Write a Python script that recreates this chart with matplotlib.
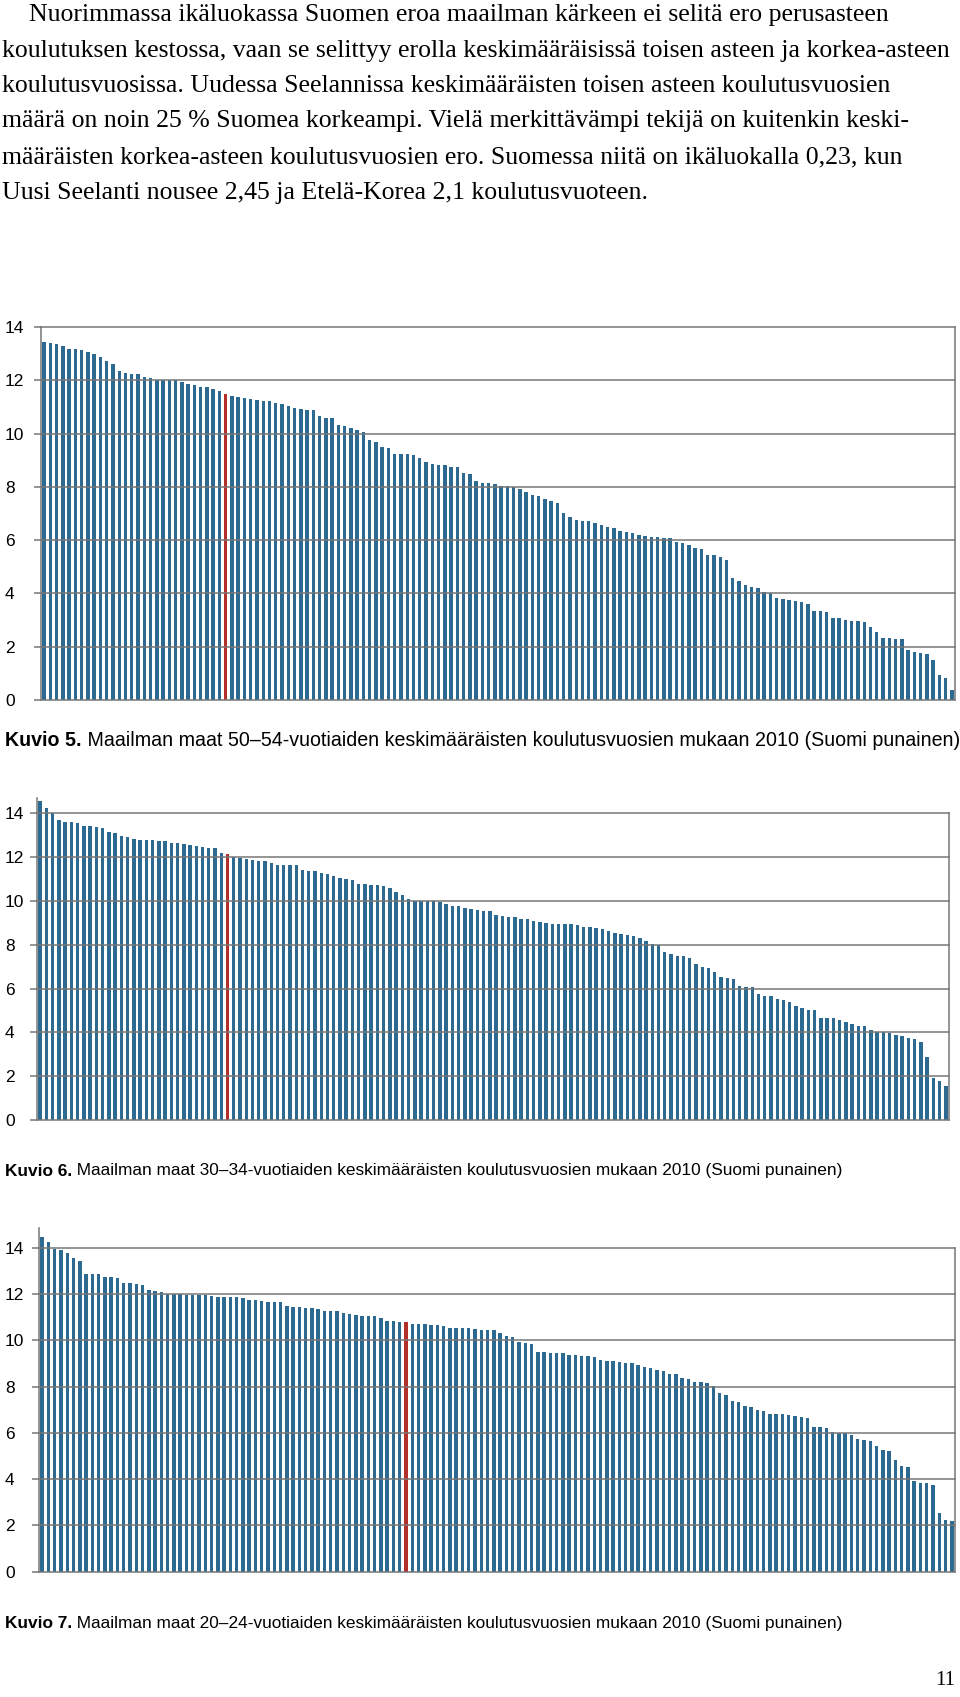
import matplotlib
matplotlib.use("Agg")
import matplotlib.pyplot as plt

plt.rcParams['font.family'] = 'Liberation Sans'

# Keskimääräiset koulutusvuodet maittain 2010, suurimmasta pienimpään
kuvio5 = [13.43, 13.40, 13.37, 13.30, 13.19, 13.19, 13.13, 13.08, 13.00, 12.89,
          12.74, 12.63, 12.34, 12.28, 12.22, 12.22, 12.12, 12.07, 12.02, 12.01,
          12.00, 12.00, 11.92, 11.86, 11.81, 11.75, 11.73, 11.66, 11.61, 11.48,
          11.42, 11.37, 11.32, 11.31, 11.25, 11.23, 11.22, 11.15, 11.10, 11.03,
          10.95, 10.91, 10.87, 10.87, 10.66, 10.59, 10.59, 10.31, 10.27, 10.22,
          10.12, 10.05, 9.75, 9.68, 9.48, 9.44, 9.25, 9.25, 9.24, 9.18,
          9.08, 8.94, 8.85, 8.83, 8.82, 8.75, 8.73, 8.52, 8.47, 8.22,
          8.15, 8.14, 8.12, 8.04, 8.02, 7.99, 7.92, 7.81, 7.71, 7.64,
          7.54, 7.47, 7.39, 7.01, 6.86, 6.76, 6.71, 6.70, 6.65, 6.56,
          6.51, 6.46, 6.35, 6.31, 6.28, 6.21, 6.17, 6.13, 6.11, 6.07,
          6.07, 5.94, 5.91, 5.81, 5.69, 5.67, 5.44, 5.44, 5.36, 5.27,
          4.59, 4.45, 4.30, 4.24, 4.21, 4.04, 4.01, 3.83, 3.78, 3.74,
          3.73, 3.69, 3.60, 3.35, 3.34, 3.32, 3.09, 3.08, 3.00, 2.97,
          2.96, 2.92, 2.74, 2.56, 2.34, 2.31, 2.28, 2.28, 1.87, 1.82,
          1.76, 1.71, 1.52, 0.92, 0.84, 0.37]

kuvio6 = [14.58, 14.24, 14.01, 13.68, 13.62, 13.59, 13.56, 13.44, 13.42, 13.38,
          13.32, 13.16, 13.09, 12.95, 12.94, 12.85, 12.78, 12.77, 12.77, 12.74,
          12.72, 12.63, 12.63, 12.60, 12.57, 12.51, 12.47, 12.42, 12.41, 12.19,
          12.15, 12.00, 11.96, 11.93, 11.87, 11.84, 11.83, 11.75, 11.65, 11.63,
          11.63, 11.63, 11.43, 11.37, 11.36, 11.28, 11.22, 11.16, 11.07, 11.01,
          10.96, 10.78, 10.77, 10.73, 10.72, 10.69, 10.61, 10.39, 10.27, 10.10,
          10.02, 10.01, 10.01, 9.99, 9.93, 9.88, 9.78, 9.75, 9.69, 9.63,
          9.60, 9.55, 9.54, 9.38, 9.31, 9.26, 9.25, 9.19, 9.16, 9.10,
          9.03, 9.00, 8.97, 8.94, 8.93, 8.93, 8.91, 8.82, 8.79, 8.75,
          8.70, 8.61, 8.53, 8.49, 8.43, 8.40, 8.32, 8.15, 8.03, 8.00,
          7.65, 7.58, 7.47, 7.47, 7.41, 7.14, 7.00, 6.95, 6.76, 6.54,
          6.48, 6.42, 6.12, 6.07, 6.07, 5.74, 5.65, 5.65, 5.54, 5.48,
          5.39, 5.22, 5.13, 5.01, 5.00, 4.66, 4.65, 4.65, 4.56, 4.48,
          4.40, 4.30, 4.30, 4.13, 4.04, 4.01, 3.98, 3.87, 3.84, 3.75,
          3.70, 3.57, 2.87, 1.93, 1.79, 1.56]

kuvio7 = [14.48, 14.26, 13.94, 13.90, 13.77, 13.59, 13.42, 12.89, 12.87, 12.86,
          12.73, 12.73, 12.70, 12.51, 12.49, 12.44, 12.39, 12.19, 12.16, 12.12,
          12.03, 12.02, 12.00, 11.99, 11.99, 11.97, 11.96, 11.93, 11.90, 11.90,
          11.89, 11.89, 11.86, 11.76, 11.76, 11.73, 11.68, 11.68, 11.67, 11.50,
          11.47, 11.45, 11.42, 11.41, 11.35, 11.29, 11.29, 11.26, 11.19, 11.13,
          11.10, 11.06, 11.06, 11.05, 10.97, 10.84, 10.84, 10.80, 10.79, 10.71,
          10.70, 10.70, 10.68, 10.67, 10.64, 10.55, 10.54, 10.54, 10.53, 10.50,
          10.47, 10.47, 10.44, 10.34, 10.21, 10.13, 9.92, 9.89, 9.86, 9.51,
          9.50, 9.48, 9.45, 9.44, 9.38, 9.38, 9.32, 9.31, 9.27, 9.15,
          9.12, 9.11, 9.06, 9.01, 9.01, 8.93, 8.86, 8.83, 8.72, 8.67,
          8.57, 8.56, 8.38, 8.32, 8.21, 8.19, 8.14, 8.02, 7.72, 7.62,
          7.40, 7.33, 7.17, 7.14, 6.98, 6.95, 6.83, 6.82, 6.80, 6.79,
          6.75, 6.69, 6.65, 6.27, 6.25, 6.21, 6.05, 6.01, 6.01, 5.92,
          5.73, 5.68, 5.66, 5.44, 5.28, 5.23, 4.82, 4.58, 4.53, 3.92,
          3.84, 3.81, 3.76, 2.55, 2.24, 2.20]

# Suomen sijainti kussakin kuviossa (punainen pylväs)
suomi5 = 29
suomi6 = 30
suomi7 = 58

y_ticks = [0, 2, 4, 6, 8, 10, 12, 14]

teksti = [
    "Nuorimmassa ikäluokassa Suomen eroa maailman kärkeen ei selitä ero perusasteen",
    "koulutuksen kestossa, vaan se selittyy erolla keskimääräisissä toisen asteen ja korkea-asteen",
    "koulutusvuosissa. Uudessa Seelannissa keskimääräisten toisen asteen koulutusvuosien",
    "määrä on noin 25 % Suomea korkeampi. Vielä merkittävämpi tekijä on kuitenkin keski-",
    "määräisten korkea-asteen koulutusvuosien ero. Suomessa niitä on ikäluokalla 0,23, kun",
    "Uusi Seelanti nousee 2,45 ja Etelä-Korea 2,1 koulutusvuoteen.",
]

otsikot = ["Kuvio 5.", "Kuvio 6.", "Kuvio 7."]
kuvatekstit = [
    " Maailman maat 50–54-vuotiaiden keskimääräisten koulutusvuosien mukaan 2010 (Suomi punainen)",
    " Maailman maat 30–34-vuotiaiden keskimääräisten koulutusvuosien mukaan 2010 (Suomi punainen)",
    " Maailman maat 20–24-vuotiaiden keskimääräisten koulutusvuosien mukaan 2010 (Suomi punainen)",
]

BLUE = '#2d6a92'
RED = '#b3302a'
GRID = '#777777'

W, H = 960, 1697
fig = plt.figure(figsize=(W / 100, H / 100), dpi=100)
r = fig.canvas.get_renderer()

# leipäteksti
for i, line in enumerate(teksti):
    x0 = 29 if i == 0 else 2
    fig.text(x0 / W, 1 - (21 + i * 35.5) / H, line, family='Liberation Serif',
             fontsize=18.5, va='baseline', ha='left')


def kuvio(vals, suomi, box, ymax, otsikko, kuvateksti, cap_y, capsize):
    left, top, right, bottom = box
    ax = fig.add_axes([left / W, 1 - bottom / H, (right - left) / W, (bottom - top) / H])
    n = len(vals)
    x = list(range(n))
    cols = [RED if i == suomi else BLUE for i in x]
    ax.bar(x, vals, width=0.55, color=cols, zorder=2)
    ax.set_xlim(-0.5, n - 0.5)
    ax.set_ylim(0, ymax)
    ax.set_yticks(y_ticks)
    ax.set_xticks([])
    for t in y_ticks:
        ax.axhline(t, color=GRID, lw=1.1, zorder=3, clip_on=False)
    ax.plot([n - 0.5, n - 0.5], [0, y_ticks[-1]], color=GRID, lw=1.1, zorder=3, clip_on=False)
    for s in ['top', 'right', 'bottom']:
        ax.spines[s].set_visible(False)
    ax.spines['left'].set_color(GRID)
    ax.spines['left'].set_linewidth(1.1)
    ax.tick_params(axis='y', length=5, width=1.1, color=GRID, labelsize=12.5,
                   pad=(left - 5) * 0.72 - 5)
    for lab in ax.get_yticklabels():
        lab.set_ha('left')

    # kuvateksti: lihavoitu alku + tavallinen teksti
    t1 = fig.text(5 / W, 1 - cap_y / H, otsikko, fontsize=capsize, weight='bold', va='baseline')
    bb = t1.get_window_extent(r)
    fig.text(bb.x1 / W, 1 - cap_y / H, kuvateksti, fontsize=capsize, va='baseline')


kuvio(kuvio5, suomi5, (41, 327, 955, 700), 14.0, otsikot[0], kuvatekstit[0], 746.5, 14.1)
kuvio(kuvio6, suomi6, (37, 798, 949, 1120), 14.70, otsikot[1], kuvatekstit[1], 1175.5, 12.4)
kuvio(kuvio7, suomi7, (39, 1228, 955, 1571.5), 14.87, otsikot[2], kuvatekstit[2], 1628, 12.4)

# sivunumero
fig.text(955 / W, 1 - 1685 / H, "11", family='Liberation Serif', fontsize=15,
         ha='right', va='baseline')

fig.savefig('out.png', dpi=100)
